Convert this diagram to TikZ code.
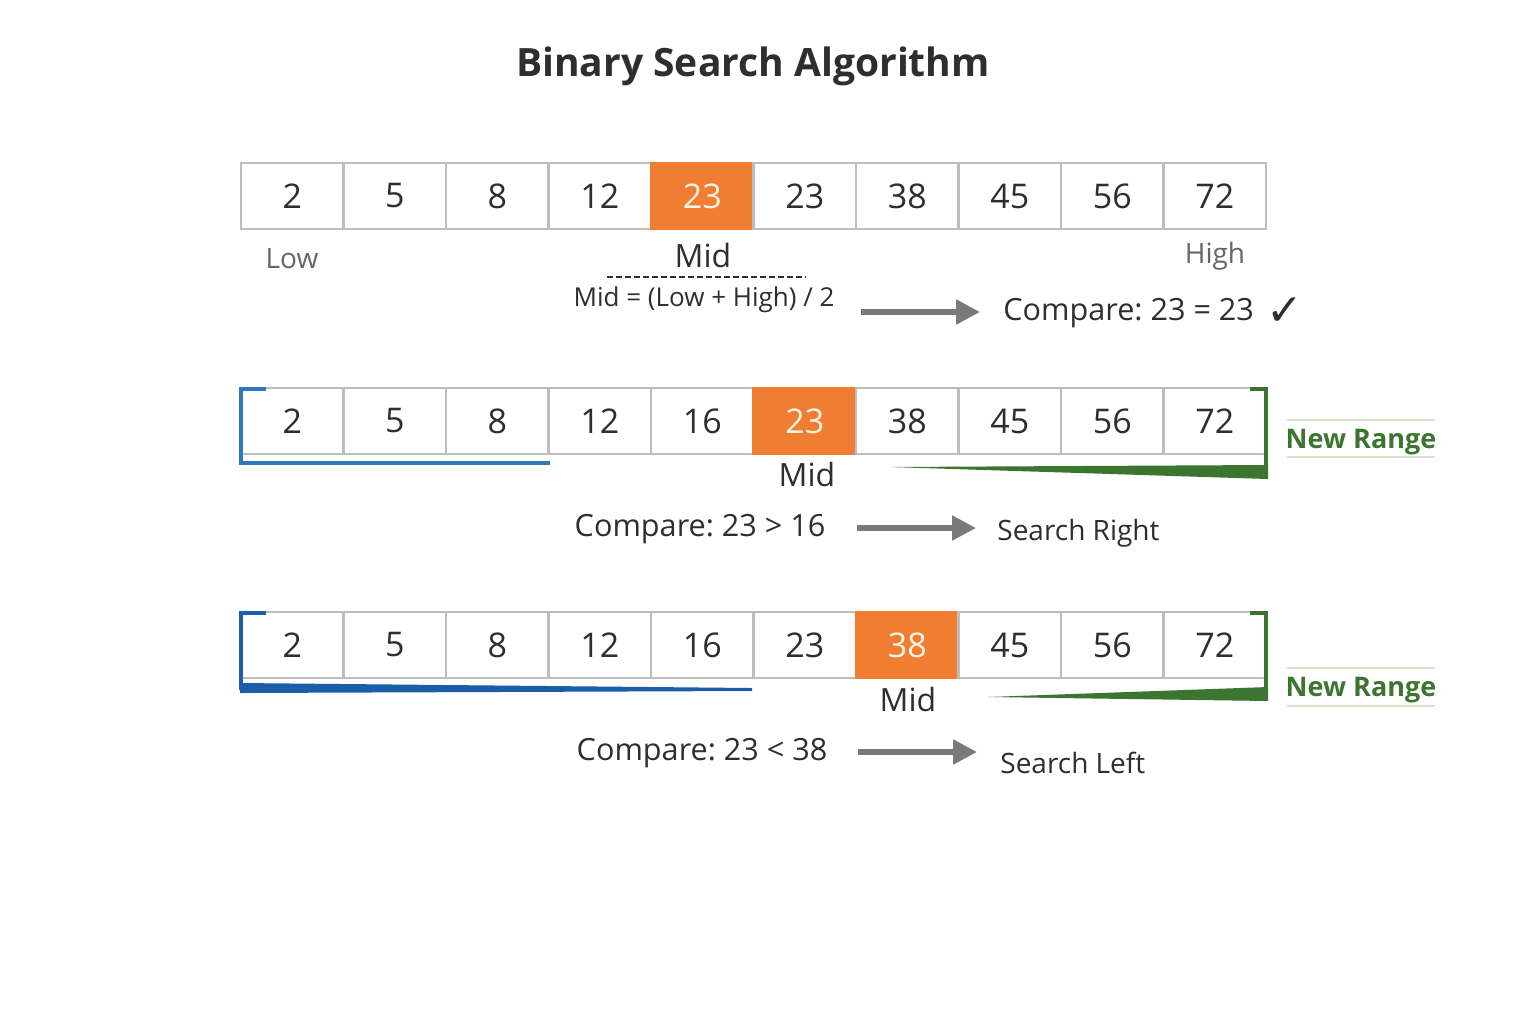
\documentclass[tikz,border=0pt]{standalone}
\usepackage{fontspec}
\setmainfont{Open Sans}
\newfontfamily\symfont{DejaVu Sans}
\usetikzlibrary{arrows.meta}
\frenchspacing
\definecolor{cellborder}{HTML}{BDBDBD}
\definecolor{orangefill}{HTML}{F07D32}
\definecolor{ink}{HTML}{2E2E2E}
\definecolor{graytext}{HTML}{666666}
\definecolor{arrowgray}{HTML}{7A7A7A}
\definecolor{bracketblue}{HTML}{2F78BE}
\definecolor{darkblue}{HTML}{1C5DAA}
\definecolor{rangegreen}{HTML}{3C7530}
\definecolor{linegreen}{HTML}{D3E6C8}
\definecolor{midtext}{HTML}{FFF4E6}
\tikzset{
  cell/.style={draw=cellborder, line width=1.3pt, fill=white, minimum width=51.25pt,
    minimum height=33pt, inner sep=0pt, text=ink, font=\fontsize{17}{20}\selectfont},
  midcell/.style={cell, fill=orangefill, draw=orangefill, text=midtext},
  lbl/.style={inner sep=0pt, text=ink, font=\fontsize{16}{19}\selectfont},
  grlbl/.style={inner sep=0pt, text=graytext, font=\fontsize{14}{17}\selectfont},
  cmp/.style={inner sep=0pt, text=ink, font=\fontsize{15.3}{18}\selectfont},
  res/.style={inner sep=0pt, text=ink, font=\fontsize{14}{17}\selectfont},
  arr/.style={draw=arrowgray, line width=2.6pt, -{Triangle[length=12pt,width=12pt]}},
  newrange/.style={inner sep=0pt, text=rangegreen, font=\bfseries\fontsize{13.5}{16}\selectfont},
  rangeline/.style={draw=linegreen, line width=0.7pt},
}
\begin{document}
\begin{tikzpicture}[x=0.5pt,y=-0.5pt]
\useasboundingbox (0,0) rectangle (1536,1024);
\fill[white] (0,0) rectangle (1536,1024);

% title
\node[inner sep=0pt, text=ink, font=\bfseries\fontsize{19.5}{23}\selectfont] (title) at (753,66) {Binary Search Algorithm};

% ---------- row 1 ----------
\foreach \v/\s [count=\i] in {2/cell,5/cell,8/cell,12/cell,23/midcell,23/cell,38/cell,45/cell,56/cell,72/cell}
  \node[\s] (a\i) at ({241+102.5*(\i-0.5)},196) {\v};
\node[grlbl] (low) at (292,259) {Low};
\node[lbl] (mid1) at (703,255) {Mid};
\node[grlbl] (high) at (1215,256) {High};
\coordinate (dl) at (607,277);
\coordinate (dr) at (806,277);
\draw[ink, line width=0.8pt, dash pattern=on 3pt off 1.5pt] (dl) -- (dr);
\node[inner sep=0pt, text=ink, font=\fontsize{13}{16}\selectfont] (formula) at (704,300) {Mid = (Low + High) / 2};
\coordinate (s1) at (861,312);
\coordinate (e1) at (980,312);
\draw[arr] (s1) -- (e1);
\node[cmp, anchor=west] (cmp1) at (1003,313) {Compare: 23 = 23};
\node[inner sep=0pt, text=ink, font=\symfont\fontsize{22}{24}\selectfont] (check) at (1285,312) {✓};

% ---------- row 2 ----------
\foreach \v/\s [count=\i] in {2/cell,5/cell,8/cell,12/cell,16/cell,23/midcell,38/cell,45/cell,56/cell,72/cell}
  \node[\s] (b\i) at ({241+102.5*(\i-0.5)},421) {\v};
\draw[bracketblue, line width=2pt] (266,389) -- (241,389) -- (241,463) -- (550,463);
\draw[rangegreen, line width=2pt] (1250,389) -- (1266,389) -- (1266,478);
\fill[rangegreen] (890,467) -- (1268,465) -- (1268,479) -- cycle;
\node[lbl] (mid2) at (807,474) {Mid};
\node[newrange] (nr2) at (1361,442) {New Range};
\draw[rangeline] (1287,420) -- (1435,420);
\draw[rangeline] (1287,457) -- (1435,457);
\node[cmp] (cmp2) at (700,529) {Compare: 23 > 16};
\coordinate (s2) at (857,528);
\coordinate (e2) at (976,528);
\draw[arr] (s2) -- (e2);
\node[res, anchor=west] (res2) at (997,533) {Search Right};

% ---------- row 3 ----------
\foreach \v/\s [count=\i] in {2/cell,5/cell,8/cell,12/cell,16/cell,23/cell,38/midcell,45/cell,56/cell,72/cell}
  \node[\s] (c\i) at ({241+102.5*(\i-0.5)},645) {\v};
\draw[darkblue, line width=2pt] (266,613) -- (241,613) -- (241,690);
\fill[darkblue] (240,683) -- (752,688) -- (752,691) -- (240,693) -- cycle;
\draw[rangegreen, line width=2pt] (1250,613) -- (1266,613) -- (1266,701);
\fill[rangegreen] (988,697) -- (1268,687) -- (1268,701) -- cycle;
\node[lbl] (mid3) at (908,699) {Mid};
\node[newrange] (nr3) at (1361,690) {New Range};
\draw[rangeline] (1287,668) -- (1435,668);
\draw[rangeline] (1287,706) -- (1435,706);
\node[cmp] (cmp3) at (702,753) {Compare: 23 < 38};
\coordinate (s3) at (858,752);
\coordinate (e3) at (977,752);
\draw[arr] (s3) -- (e3);
\node[res, anchor=west] (res3) at (1000,763) {Search Left};
\end{tikzpicture}
\end{document}
